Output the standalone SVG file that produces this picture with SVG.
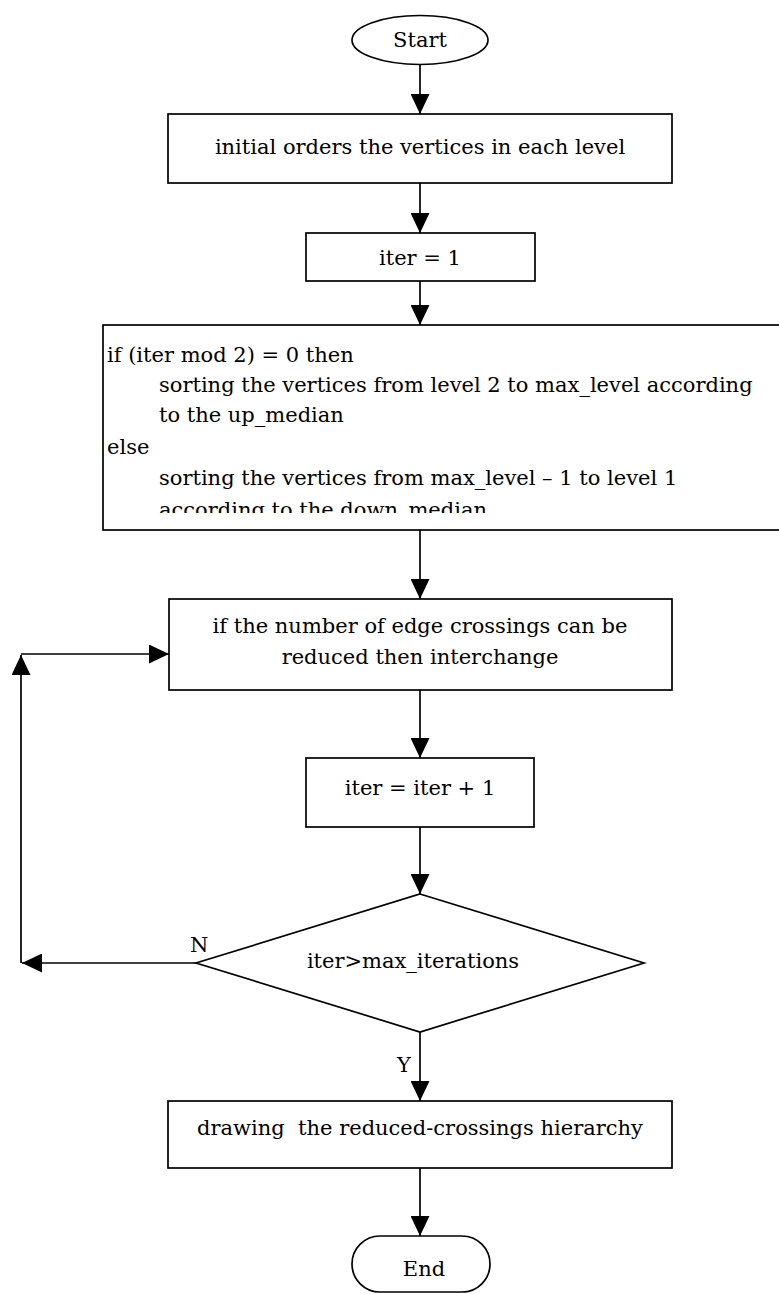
<svg xmlns="http://www.w3.org/2000/svg" width="779" height="1294" viewBox="0 0 779 1294">
  <style>
    .shape { fill: #fff; stroke: #000; stroke-width: 1.7; }
    .edge { fill: none; stroke: #000; stroke-width: 1.7; }
    text { font-family: "DejaVu Serif", "Liberation Serif", serif; font-size: 21px; fill: #000; }
    .c { text-anchor: middle; }
    .pre { white-space: pre; }
  </style>
  <defs>
    <marker id="arrow" markerUnits="userSpaceOnUse" markerWidth="20" markerHeight="19" refX="20" refY="9.5" orient="auto">
      <path d="M0,0 L20,9.5 L0,19 z" fill="#000"/>
    </marker>
    <clipPath id="sortClip">
      <rect x="103" y="326" width="676" height="187"/>
    </clipPath>
  </defs>
  <rect width="779" height="1294" fill="#fff"/>

  <g id="connectors">
    <line class="edge" x1="420" y1="64" x2="420" y2="114" marker-end="url(#arrow)"/>
    <line class="edge" x1="420" y1="183" x2="420" y2="233" marker-end="url(#arrow)"/>
    <line class="edge" x1="420" y1="281" x2="420" y2="325" marker-end="url(#arrow)"/>
    <line class="edge" x1="420" y1="530" x2="420" y2="599" marker-end="url(#arrow)"/>
    <line class="edge" x1="420" y1="690" x2="420" y2="758" marker-end="url(#arrow)"/>
    <line class="edge" x1="420" y1="827" x2="420" y2="894" marker-end="url(#arrow)"/>
    <line class="edge" x1="420" y1="1032" x2="420" y2="1101" marker-end="url(#arrow)"/>
    <line class="edge" x1="420" y1="1168" x2="420" y2="1236" marker-end="url(#arrow)"/>
    <!-- "N" branch loops back to the interchange step -->
    <line class="edge" x1="196" y1="963" x2="22" y2="963" marker-end="url(#arrow)"/>
    <line class="edge" x1="21" y1="963" x2="21" y2="655" marker-end="url(#arrow)"/>
    <line class="edge" x1="21" y1="654" x2="169" y2="654" marker-end="url(#arrow)"/>
    <text x="190" y="952">N</text>
    <text x="397" y="1072">Y</text>
  </g>

  <g id="start">
    <ellipse class="shape" cx="420" cy="40" rx="68" ry="24.5"/>
    <text class="c" x="420" y="47">Start</text>
  </g>

  <g id="init-order">
    <rect class="shape" x="168" y="114" width="504" height="69"/>
    <text class="c" x="420" y="154">initial orders the vertices in each level</text>
  </g>

  <g id="iter-init">
    <rect class="shape" x="306" y="233" width="229" height="48"/>
    <text class="c" x="420" y="265">iter = 1</text>
  </g>

  <g id="sort-levels">
    <rect class="shape" x="103" y="325" width="690" height="205"/>
    <g clip-path="url(#sortClip)">
      <text x="107" y="362">if (iter mod 2) = 0 then</text>
      <text x="159" y="392">sorting the vertices from level 2 to max_level according</text>
      <text x="159" y="422">to the up_median</text>
      <text x="107" y="454">else</text>
      <text x="159" y="485">sorting the vertices from max_level – 1 to level 1</text>
      <text x="159" y="517">according to the down_median</text>
    </g>
  </g>

  <g id="interchange">
    <rect class="shape" x="169" y="599" width="503" height="91"/>
    <text class="c" x="420" y="633">if the number of edge crossings can be</text>
    <text class="c" x="420" y="664">reduced then interchange</text>
  </g>

  <g id="iter-inc">
    <rect class="shape" x="306" y="758" width="228" height="69"/>
    <text class="c" x="420" y="795">iter = iter + 1</text>
  </g>

  <g id="max-check">
    <polygon class="shape" points="420,894 644,963 420,1032 196,963"/>
    <text class="c" x="413" y="968">iter&gt;max_iterations</text>
  </g>

  <g id="draw-hierarchy">
    <rect class="shape" x="168" y="1101" width="504" height="67"/>
    <text class="c pre" x="420" y="1135">drawing  the reduced-crossings hierarchy</text>
  </g>

  <g id="end">
    <rect class="shape" x="352" y="1236" width="138" height="56" rx="28" ry="28"/>
    <text class="c" x="424" y="1276">End</text>
  </g>
</svg>
